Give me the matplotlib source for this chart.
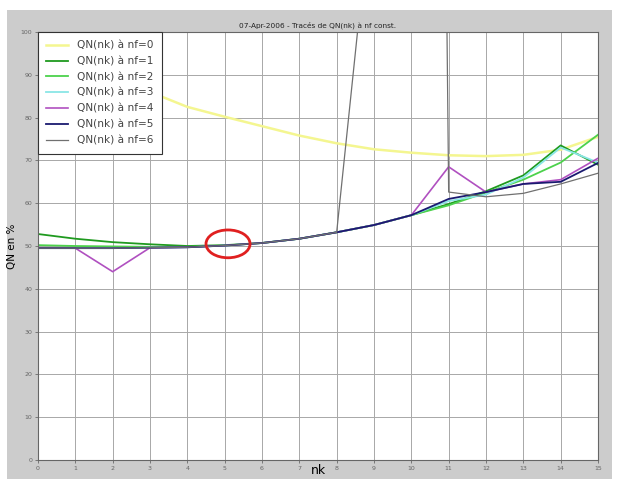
import matplotlib
matplotlib.use('Agg')
import matplotlib.pyplot as plt
from matplotlib.patches import Ellipse, Rectangle

# data
nk = list(range(16))
base = [49.5, 49.5, 49.5, 49.6, 49.7, 50.1, 50.7, 51.7, 53.2, 54.9, 57.2]

qn_nf0 = [98, 93.5, 89.5, 86, 82.5, 80.2, 78, 75.8, 74, 72.6, 71.8, 71.2, 71, 71.3, 72.5, 75.5]
qn_nf1 = [52.8, 51.7, 50.9, 50.4, 50.0, 50.2, 50.7, 51.7, 53.2, 54.9, 57.2, 59.8, 62.8, 66.5, 73.5, 69.0]
qn_nf2 = [50.2, 50.0, 49.9, 49.8, 49.8, 50.1, 50.7, 51.7, 53.2, 54.9, 57.2, 59.5, 62.5, 65.5, 69.5, 76.0]
qn_nf3 = base + [60.5, 62.0, 66.0, 73.0, 69.5]
qn_nf4 = [49.5, 49.5, 44.0, 49.6, 49.7, 50.1, 50.7, 51.7, 53.2, 54.9, 57.2, 68.5, 62.6, 64.5, 65.5, 70.5]
qn_nf5 = base + [61.0, 62.6, 64.5, 65.0, 69.4]
qn_nf6 = base[:9] + [137, 900, 62.6, 61.5, 62.3, 64.5, 67.0]

series = [qn_nf0, qn_nf1, qn_nf2, qn_nf3, qn_nf4, qn_nf5, qn_nf6]
labels = ['QN(nk) à nf=%d' % i for i in range(7)]
colors = ['#f4f690', '#1f9a1f', '#4cd24c', '#8ae6e6', '#b050c0', '#1a1a70', '#707070']
widths = [1.8, 1.3, 1.3, 1.3, 1.2, 1.3, 0.9]

fig = plt.figure(figsize=(6.19, 4.79), dpi=100, facecolor='white')
fig.patches.append(Rectangle((7 / 619, 0), 605 / 619, 469 / 479, transform=fig.transFigure,
                             facecolor='#cccccc', edgecolor='none', zorder=-10))
ax = fig.add_axes([38 / 619, 1 - 460 / 479, 560 / 619, 428 / 479])
ax.set_facecolor('white')

for s, lab, c, w in zip(series, labels, colors, widths):
    ax.plot(nk, s, color=c, lw=w, label=lab)

ax.add_patch(Ellipse((5.09, 50.5), 1.18, 6.5, fill=False, edgecolor='#e02020', lw=2, zorder=5))

ax.set_xlim(0, 15)
ax.set_ylim(0, 100)
ax.set_xticks(range(16))
ax.set_yticks(range(0, 101, 10))
ax.tick_params(labelsize=4.5, labelcolor='#666666', length=2, width=0.5, color='#555555', pad=2)
ax.grid(True, color='#a8a8a8', lw=0.7, linestyle='-')
for sp in ax.spines.values():
    sp.set_color('#666666')
    sp.set_linewidth(0.8)

ax.set_title('07-Apr-2006 - Tracés de QN(nk) à nf const.', fontsize=5.3, pad=3, color='#222222')
fig.text(318 / 619, 1 - 471 / 479, 'nk', fontsize=9, ha='center', va='center')
ax.set_ylabel('QN en %', fontsize=7.5, labelpad=3)

leg = ax.legend(loc='upper left', fontsize=7.6, fancybox=False, framealpha=1, edgecolor='#333333',
                borderaxespad=0, handlelength=2.0, handletextpad=0.9, labelspacing=0.55,
                borderpad=0.8)
leg.get_frame().set_linewidth(0.8)
for t in leg.get_texts():
    t.set_color('#444444')

fig.savefig('out.png', dpi=100)
